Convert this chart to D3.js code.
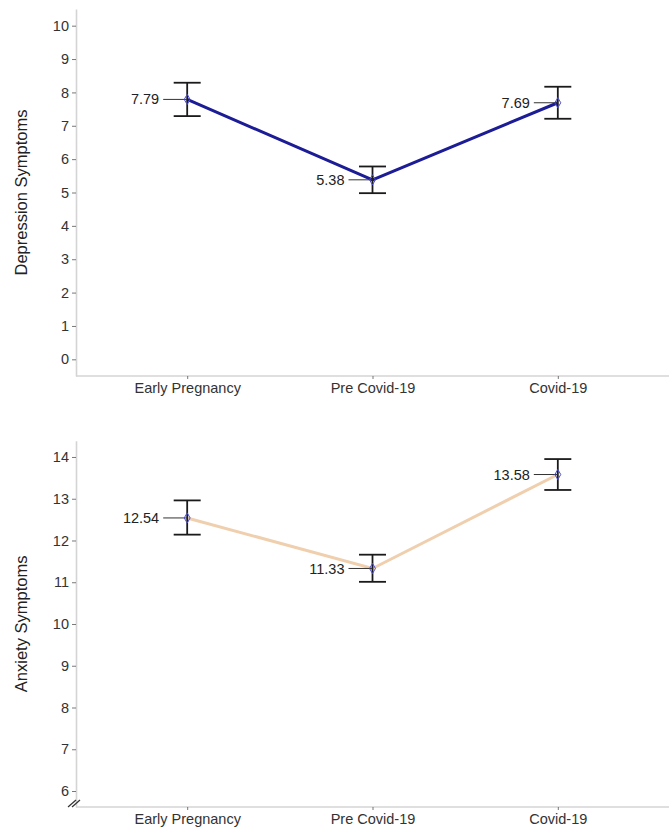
<!DOCTYPE html>
<html>
<head>
<meta charset="utf-8">
<script src="https://cdn.jsdelivr.net/npm/d3@7"></script>
<style>
  body { margin: 0; background: #fff; }
  text { font-family: "Liberation Sans", Arial, sans-serif; }
</style>
</head>
<body>
<div id="chart"></div>
<script>
var periods = ["Early Pregnancy", "Pre Covid-19", "Covid-19"];

var depMean = [7.79, 5.38, 7.69],
    depLow = [7.29, 4.98, 7.21],
    depHigh = [8.29, 5.78, 8.17];

var anxMean = [12.54, 11.33, 13.58],
    anxLow = [12.14, 11.01, 13.21],
    anxHigh = [12.96, 11.66, 13.95];

var depTicks = [0, 1, 2, 3, 4, 5, 6, 7, 8, 9, 10],
    anxTicks = [6, 7, 8, 9, 10, 11, 12, 13, 14];

var width = 671, height = 830;
var axisLeftX = 76, axisRightX = 669;
var capHalf = 13.5;

var svg = d3.select("#chart").append("svg")
  .attr("width", width)
  .attr("height", height);

var x = d3.scalePoint()
  .domain(periods)
  .range([axisLeftX, axisRightX])
  .padding(0.6);

// one panel = one outcome
function panel(opts) {
  var y = d3.scaleLinear().domain(opts.domain).range([opts.bottom, opts.top]);
  var g = svg.append("g");

  // y axis
  var yAxis = g.append("g")
    .attr("transform", "translate(" + axisLeftX + ",0)")
    .call(d3.axisLeft(y).tickValues(opts.ticks).tickSize(4).tickPadding(3).tickSizeOuter(0));
  yAxis.select(".domain").attr("stroke", "#d4d4d4").attr("stroke-width", 1.6);
  yAxis.selectAll(".tick line").attr("stroke", "#555").attr("stroke-width", 0.8);
  yAxis.selectAll(".tick text").attr("fill", "#333").attr("font-size", 14.5);

  // x axis
  var xAxis = g.append("g")
    .attr("transform", "translate(0," + opts.bottom + ")")
    .call(d3.axisBottom(x).tickSize(3).tickPadding(4).tickSizeOuter(0));
  xAxis.select(".domain").attr("stroke", "#d4d4d4").attr("stroke-width", 1.6)
    .attr("d", "M" + axisLeftX + ",0H" + axisRightX);
  xAxis.selectAll(".tick line").attr("stroke", "#555").attr("stroke-width", 0.8);
  xAxis.selectAll(".tick text").attr("fill", "#333").attr("font-size", 14.5);

  // y title
  g.append("text")
    .attr("transform", "translate(27," + ((opts.top + opts.bottom) / 2) + ") rotate(-90)")
    .attr("text-anchor", "middle")
    .attr("fill", "#222")
    .attr("font-size", 16.5)
    .text(opts.title);

  var rows = periods.map(function(p, i) {
    return { p: p, m: opts.mean[i], lo: opts.low[i], hi: opts.high[i] };
  });

  // connecting line
  g.append("path")
    .datum(rows)
    .attr("fill", "none")
    .attr("stroke", opts.color)
    .attr("stroke-width", 3)
    .attr("d", d3.line().x(function(d){ return x(d.p); }).y(function(d){ return y(d.m); }));

  // error bars
  var eb = g.selectAll(".eb").data(rows).enter().append("g")
    .attr("stroke", "#1a1a1a").attr("stroke-width", 1.8);
  eb.append("line")
    .attr("x1", function(d){ return x(d.p); }).attr("x2", function(d){ return x(d.p); })
    .attr("y1", function(d){ return y(d.lo); }).attr("y2", function(d){ return y(d.hi); });
  eb.append("line")
    .attr("x1", function(d){ return x(d.p) - capHalf; }).attr("x2", function(d){ return x(d.p) + capHalf; })
    .attr("y1", function(d){ return y(d.hi); }).attr("y2", function(d){ return y(d.hi); });
  eb.append("line")
    .attr("x1", function(d){ return x(d.p) - capHalf; }).attr("x2", function(d){ return x(d.p) + capHalf; })
    .attr("y1", function(d){ return y(d.lo); }).attr("y2", function(d){ return y(d.lo); });

  // label connectors
  g.selectAll(".conn").data(rows).enter().append("line")
    .attr("stroke", "#333").attr("stroke-width", 1)
    .attr("x1", function(d){ return x(d.p) - 24; }).attr("x2", function(d){ return x(d.p); })
    .attr("y1", function(d){ return y(d.m); }).attr("y2", function(d){ return y(d.m); });

  // value labels
  g.selectAll(".lab").data(rows).enter().append("text")
    .attr("x", function(d){ return x(d.p) - 28; })
    .attr("y", function(d){ return y(d.m); })
    .attr("dy", "0.35em")
    .attr("text-anchor", "end")
    .attr("fill", "#222")
    .attr("font-size", 14.5)
    .text(function(d){ return d.m.toFixed(2); });

  // diamond markers
  g.selectAll(".pt").data(rows).enter().append("path")
    .attr("d", d3.symbol().type(d3.symbolDiamond).size(30))
    .attr("transform", function(d){ return "translate(" + x(d.p) + "," + y(d.m) + ")"; })
    .attr("fill", "none")
    .attr("stroke", "#4a4acc")
    .attr("stroke-width", 1);

  // axis break mark
  if (opts.brk) {
    [0, 4].forEach(function(dx) {
      g.append("line")
        .attr("x1", 68 + dx).attr("y1", opts.bottom)
        .attr("x2", 76 + dx).attr("y2", opts.bottom - 7)
        .attr("stroke", "#333").attr("stroke-width", 1.2);
    });
  }
}

panel({
  title: "Depression Symptoms",
  domain: [-0.5, 10.5], top: 9, bottom: 376,
  ticks: depTicks, mean: depMean, low: depLow, high: depHigh,
  color: "#1c1c96", brk: false
});

panel({
  title: "Anxiety Symptoms",
  domain: [5.617, 14.39], top: 440.7, bottom: 807,
  ticks: anxTicks, mean: anxMean, low: anxLow, high: anxHigh,
  color: "#efcfae", brk: true
});
</script>
</body>
</html>
